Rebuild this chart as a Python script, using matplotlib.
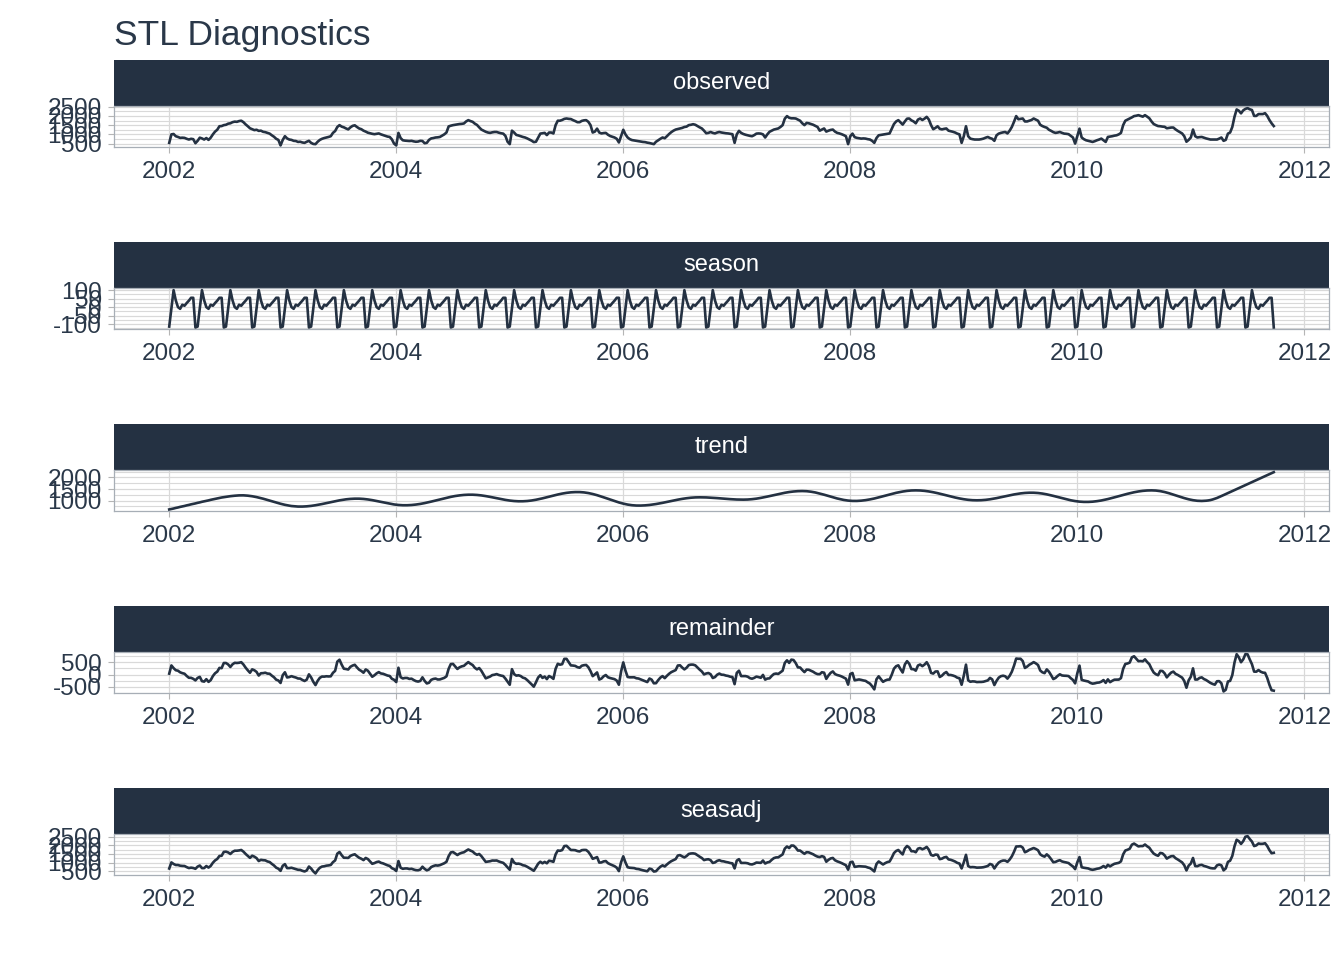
import numpy as np
import matplotlib
matplotlib.use("Agg")
import matplotlib.pyplot as plt
from matplotlib.ticker import FixedLocator, FixedFormatter

plt.rcParams['font.family'] = ['Liberation Sans', 'DejaVu Sans']

title = "STL Diagnostics"
facets = ["observed", "season", "trend", "remainder", "seasadj"]
start_year = 2002
weeks_per_year = 52
season_period = 13

observed = [
    540, 1000, 1020, 900, 860, 810, 820, 810, 760, 720,
    760, 740, 520, 650, 820, 780, 720, 800, 700, 820,
    1000, 1150, 1250, 1440, 1450, 1500, 1520, 1580, 1600, 1660,
    1690, 1680, 1720, 1740, 1660, 1540, 1440, 1330, 1280, 1230,
    1250, 1190, 1200, 1140, 1120, 1080, 1040, 950, 870, 760,
    700, 400, 700, 900, 780, 720, 700, 650, 640, 590,
    600, 560, 540, 600, 650, 540, 480, 470, 600, 700,
    760, 800, 830, 860, 900, 1080, 1180, 1400, 1500, 1420,
    1380, 1320, 1270, 1380, 1460, 1490, 1400, 1320, 1280, 1200,
    1150, 1090, 1060, 1030, 1010, 1030, 1050, 1000, 960, 920,
    880, 860, 730, 500, 400, 1080, 800, 680, 660, 650,
    640, 650, 620, 600, 610, 650, 640, 520, 540, 700,
    780, 800, 830, 840, 860, 930, 1000, 1100, 1430, 1470,
    1500, 1520, 1540, 1560, 1570, 1590, 1700, 1770, 1720, 1680,
    1580, 1510, 1380, 1260, 1200, 1140, 1100, 1080, 1110, 1130,
    1130, 1090, 1060, 1040, 920, 600, 470, 1200, 1100, 970,
    940, 900, 860, 830, 780, 720, 660, 580, 600, 820,
    1040, 1060, 1080, 960, 1100, 1100, 1050, 1500, 1740, 1740,
    1780, 1840, 1860, 1840, 1830, 1770, 1720, 1660, 1660, 1730,
    1760, 1770, 1680, 1500, 1100, 1150, 1310, 1100, 1050, 1070,
    1080, 980, 910, 870, 830, 760, 560, 900, 1250, 1000,
    830, 740, 690, 670, 650, 630, 610, 590, 580, 550,
    530, 500, 470, 600, 680, 760, 830, 790, 900, 1020,
    1120, 1200, 1260, 1290, 1320, 1350, 1400, 1420, 1500, 1520,
    1550, 1520, 1450, 1380, 1320, 1200, 1060, 1080, 1130, 1080,
    1050, 1100, 1130, 1100, 1080, 1060, 1050, 1030, 1010, 540,
    1000, 1190, 1080, 1020, 980, 950, 920, 900, 960, 1040,
    1050, 1040, 1000, 830, 1000, 1140, 1200, 1260, 1290, 1320,
    1400, 1500, 1850, 1990, 1900, 1870, 1870, 1860, 1800, 1740,
    1600, 1500, 1620, 1600, 1560, 1520, 1460, 1400, 1200, 1260,
    1320, 1150, 1200, 1240, 1260, 1150, 1080, 1050, 1010, 960,
    900, 470, 900, 1040, 850, 810, 790, 770, 780, 770,
    740, 720, 650, 540, 800, 950, 970, 990, 1010, 1030,
    1050, 1300, 1560, 1700, 1770, 1650, 1530, 1700, 1850, 1860,
    1760, 1700, 1600, 1800, 1860, 1780, 1850, 1950, 1800, 1500,
    1280, 1350, 1440, 1300, 1270, 1300, 1320, 1200, 1170, 1140,
    1100, 1040, 1000, 540, 900, 1440, 900, 770, 740, 720,
    720, 720, 740, 770, 820, 860, 800, 760, 650, 950,
    1040, 1080, 1110, 1130, 1050, 1200, 1400, 1680, 1990, 1820,
    1840, 1860, 1700, 1700, 1740, 1780, 1860, 1800, 1740, 1520,
    1450, 1400, 1360, 1250, 1190, 1120, 1080, 1100, 1130, 1080,
    1040, 1030, 1010, 920, 830, 500, 900, 1310, 830, 740,
    680, 650, 620, 590, 630, 680, 720, 770, 680, 590,
    860, 880, 900, 930, 950, 1000, 1080, 1500, 1740, 1800,
    1860, 1920, 1990, 2010, 2040, 2000, 1960, 2040, 1960, 1870,
    1700, 1560, 1500, 1450, 1440, 1420, 1410, 1330, 1350, 1370,
    1370, 1270, 1190, 1120, 1050, 900, 600, 700, 830, 1260,
    900, 830, 850, 860, 820, 780, 750, 720, 720, 720,
    720, 770, 830, 650, 700, 1040, 1100, 1400, 1950, 2350,
    2280, 2140, 2300, 2380, 2420, 2360, 2320, 2000, 2000, 2100,
    2100, 2100, 2150, 2000, 1780, 1600, 1450,
]

trend = [
    620, 640, 660, 685, 705, 730, 750, 770, 795, 815, 840, 860, 880, 905, 925, 950, 970,
    990, 1010, 1035, 1055, 1075, 1095, 1115, 1135, 1150, 1165, 1180, 1192, 1203, 1212,
    1220, 1226, 1229,
    1228, 1223, 1214, 1203, 1189, 1172, 1153, 1131, 1108, 1084, 1056, 1028, 1000, 972,
    944, 916, 889, 865, 841, 819, 800, 783, 767, 758, 749, 744, 743,
    744, 748, 754, 763, 773, 786, 801, 817, 835, 853, 873, 894, 915, 935, 956, 976, 994,
    1012, 1028, 1043, 1056, 1066, 1075, 1081, 1085, 1086,
    1085, 1080, 1073, 1063, 1051, 1037, 1021, 1002, 983, 963, 943, 923, 903, 884, 865,
    849, 835, 823, 813, 806, 801, 800,
    801, 805, 811, 820, 831, 843, 858, 875, 894, 914, 936, 958, 981, 1005, 1029, 1052,
    1076, 1099, 1121, 1143, 1163, 1182, 1199, 1214, 1226, 1237, 1246, 1252, 1256, 1257,
    1256, 1252, 1245, 1236, 1225, 1212, 1196, 1180, 1162, 1143, 1124, 1104, 1085, 1066,
    1048, 1032, 1016, 1003, 992, 983, 976, 972, 971,
    973, 977, 984, 994, 1006, 1021, 1038, 1057, 1078, 1099, 1123, 1147, 1171, 1195, 1219,
    1243, 1264, 1285, 1304, 1321, 1336, 1348, 1358, 1365, 1369, 1371,
    1369, 1364, 1355, 1342, 1327, 1307, 1286, 1261, 1235, 1206, 1176, 1143, 1111, 1079,
    1046, 1014, 981, 951, 922, 896, 871, 850, 830, 815, 802, 793, 788, 786,
    787, 790, 796, 803, 813, 825, 838, 853, 869, 887, 905, 925, 945, 965, 985, 1004, 1024,
    1042, 1060, 1076, 1091, 1104, 1116, 1126, 1133, 1139, 1142, 1143,
    1142, 1141, 1138, 1133, 1128, 1122, 1116, 1109, 1101, 1093, 1085, 1078, 1070, 1064,
    1058, 1053, 1048, 1045, 1044, 1043,
    1044, 1048, 1054, 1063, 1073, 1086, 1101, 1118, 1136, 1154, 1175, 1196, 1218, 1239,
    1261, 1282, 1303, 1321, 1339, 1356, 1371, 1384, 1394, 1403, 1409, 1413, 1414,
    1412, 1407, 1398, 1385, 1370, 1352, 1329, 1307, 1282, 1256, 1228, 1200, 1172, 1144,
    1118, 1093, 1071, 1049, 1030, 1015, 1002, 993, 988, 986,
    987, 991, 999, 1008, 1021, 1036, 1053, 1072, 1092, 1115, 1138, 1164, 1189, 1215, 1240,
    1265, 1291, 1314, 1337, 1357, 1376, 1393, 1408, 1421, 1430, 1438, 1442, 1443,
    1442, 1438, 1431, 1422, 1410, 1396, 1380, 1362, 1343, 1322, 1300, 1276, 1253, 1229,
    1204, 1181, 1157, 1135, 1114, 1095, 1077, 1061, 1047, 1035, 1026, 1019, 1015, 1014,
    1015, 1019, 1026, 1034, 1045, 1058, 1074, 1090, 1108, 1128, 1148, 1168, 1189, 1209,
    1229, 1249, 1267, 1283, 1299, 1312, 1323, 1332, 1338, 1342, 1343,
    1341, 1337, 1329, 1318, 1305, 1289, 1271, 1250, 1228, 1205, 1181, 1155, 1131, 1105,
    1081, 1058, 1036, 1015, 997, 981, 968, 957, 949, 945, 943,
    945, 949, 955, 965, 977, 991, 1007, 1026, 1046, 1068, 1092, 1116, 1141, 1167, 1193,
    1219, 1245, 1271, 1295, 1318, 1340, 1361, 1379, 1396, 1410, 1422, 1431, 1438, 1442, 1443,
    1441, 1435, 1424, 1410, 1392, 1371, 1346, 1320, 1291, 1261, 1230, 1199, 1168, 1138,
    1109, 1083, 1058, 1037, 1019, 1005, 994, 988, 986,
    990, 997, 1008, 1025, 1050, 1080, 1115, 1155, 1197, 1240, 1283, 1326, 1369, 1412,
    1455, 1498, 1541, 1584, 1627, 1670, 1713, 1756, 1799, 1842, 1885, 1928, 1971, 2014,
    2057, 2100, 2143, 2186, 2229,
]

# one 13-week seasonal cycle (the STL seasonal component repeats it every quarter)
season_pattern = [-115, -10, 100, 40, 0, -10, 14, 8, 24, 38, 55, 55, -120]

x_ticks = [2002, 2004, 2006, 2008, 2010, 2012]
ticks_observed = [500, 1000, 1500, 2000, 2500]
ticks_season = [-100, -50, 0, 50, 100]
ticks_trend = [1000, 1500, 2000]
ticks_remainder = [-500, 0, 500]
ticks_seasadj = [500, 1000, 1500, 2000, 2500]

assert len(observed) == len(trend), (len(observed), len(trend))

# ---- derived components ----
n = len(observed)
obs = np.array(observed, dtype=float)
trd = np.array(trend, dtype=float)
t = start_year + np.arange(n) / weeks_per_year
season = np.tile(np.array(season_pattern, dtype=float), n // season_period + 1)[:n]
remainder = obs - trd - season
seasadj = obs - season

series = [obs, season, trd, remainder, seasadj]
ticks = [ticks_observed, ticks_season, ticks_trend, ticks_remainder, ticks_seasadj]

# ---- style ----
DARK = "#243142"
TEXT = "#2a3849"
GRID = "#d9d9d9"
BORDER = "#a7aeb6"
W, H = 1344, 960

fig = plt.figure(figsize=(W / 100, H / 100), dpi=100)
fig.patch.set_facecolor("white")

left_px, right_px = 114, 1329
xr = t[-1] - t[0]
xlim = (t[0] - 0.05 * xr, t[-1] + 0.05 * xr)

for k, (name, y, yt) in enumerate(zip(facets, series, ticks)):
    st = 60 + 182 * k
    sb = 106.3 + 182 * k
    pb = 147.3 + 182 * k
    sax = fig.add_axes([left_px / W, 1 - sb / H, (right_px - left_px) / W, (sb - st) / H])
    sax.set_facecolor(DARK)
    sax.set_xticks([])
    sax.set_yticks([])
    for sp in sax.spines.values():
        sp.set_visible(False)
    sax.text(0.5, 0.5, name, color="white", ha="center", va="center",
             fontsize=17, transform=sax.transAxes)

    ax = fig.add_axes([left_px / W, 1 - pb / H, (right_px - left_px) / W, (pb - sb) / H])
    ax.plot(t, y, color=DARK, lw=1.9, solid_joinstyle="round", zorder=3)
    ax.set_xlim(*xlim)
    yr = y.max() - y.min()
    ylo, yhi = y.min() - 0.05 * yr, y.max() + 0.05 * yr
    ax.set_ylim(ylo, yhi)

    ax.xaxis.set_major_locator(FixedLocator(x_ticks))
    ax.xaxis.set_major_formatter(FixedFormatter([str(v) for v in x_ticks]))
    ax.yaxis.set_major_locator(FixedLocator(yt))
    ax.yaxis.set_major_formatter(FixedFormatter([str(v) for v in yt]))
    step = yt[1] - yt[0]
    minors = [yt[0] - step / 2 + i * step for i in range(len(yt) + 1)]
    ax.yaxis.set_minor_locator(FixedLocator(minors))

    ax.grid(which="major", axis="both", color=GRID, lw=0.9, zorder=0)
    ax.grid(which="minor", axis="y", color=GRID, lw=0.8, zorder=0)
    ax.set_axisbelow(True)
    ax.tick_params(which="minor", length=0)
    ax.tick_params(which="major", length=4.3, width=0.8, color="#b5b5b5",
                   labelsize=17.5, labelcolor=TEXT)
    ax.tick_params(axis="x", pad=5.5)
    ax.tick_params(axis="y", pad=4.5)
    for sp in ax.spines.values():
        sp.set_color(BORDER)
        sp.set_linewidth(0.9)

fig.text(left_px / W, 1 - 35 / H, title, fontsize=25.5, ha="left", va="center", color=TEXT)

fig.savefig("out.png", dpi=100, facecolor="white")
